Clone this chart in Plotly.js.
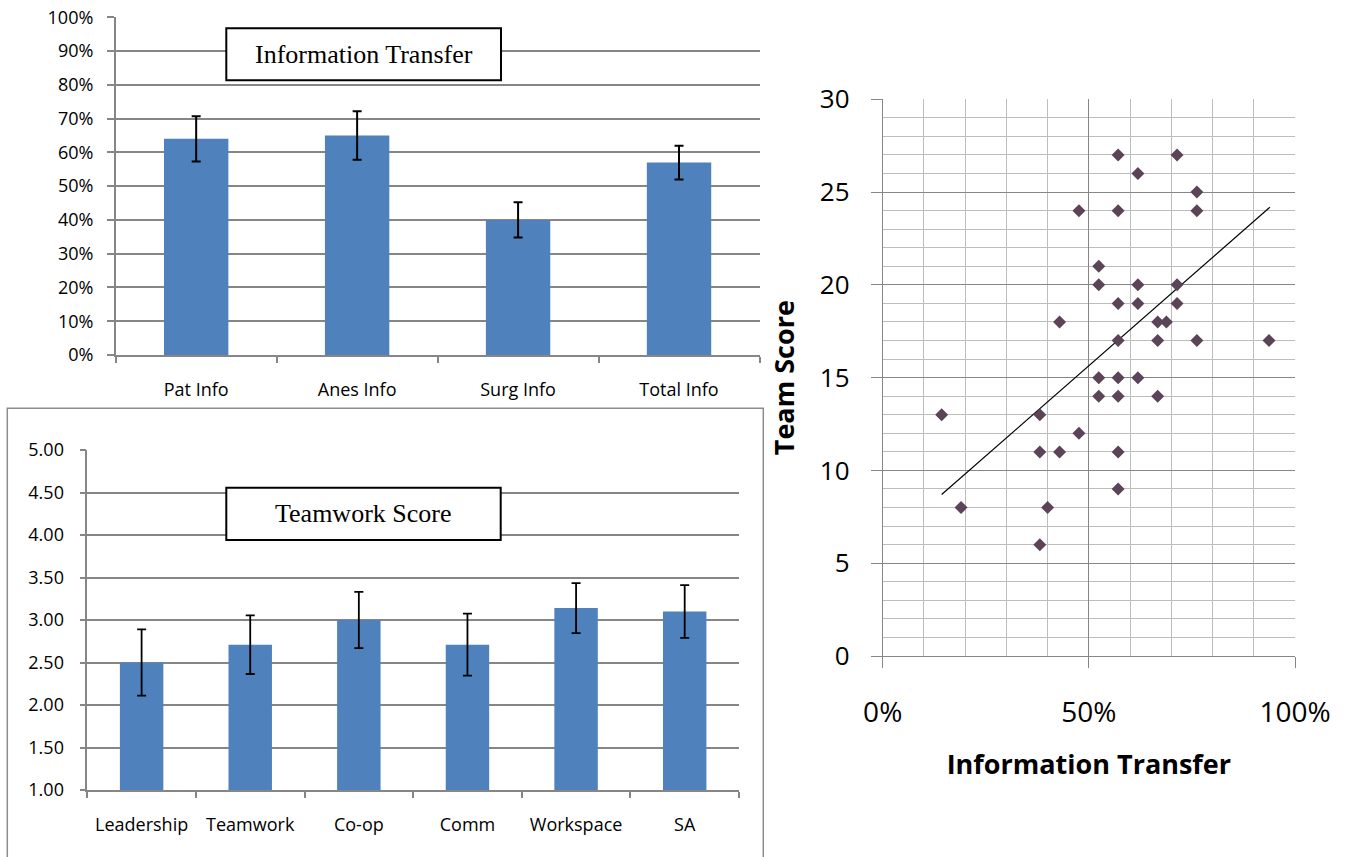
<!DOCTYPE html>
<html>
<head>
<meta charset="utf-8">
<script src="https://cdn.plot.ly/plotly-3.0.1.min.js"></script>
<style>
  html, body { margin: 0; padding: 0; background: #ffffff; }
  #chart { width: 1348px; height: 857px; }
</style>
</head>
<body>
<div id="chart"></div>
<script>
// Information transfer by category (share of items transferred) with error bars
const infoCategories = ["Pat Info", "Anes Info", "Surg Info", "Total Info"];
const infoValues = [0.64, 0.65, 0.40, 0.57];
const infoErrors = [0.067, 0.072, 0.052, 0.050];

// Teamwork score components with error bars
const teamCategories = ["Leadership", "Teamwork", "Co-op", "Comm", "Workspace", "SA"];
const teamValues = [2.50, 2.71, 3.00, 2.71, 3.14, 3.10];
const teamErrors = [0.39, 0.345, 0.33, 0.365, 0.294, 0.31];

// Per-case information transfer vs. team score
const caseInfoTransfer = [0.571, 0.714, 0.619, 0.762, 0.762, 0.476, 0.571, 0.524, 0.524, 0.619,
                          0.714, 0.571, 0.619, 0.714, 0.429, 0.667, 0.688, 0.571, 0.667, 0.762,
                          0.937, 0.524, 0.571, 0.619, 0.524, 0.571, 0.667, 0.143, 0.381, 0.476,
                          0.381, 0.429, 0.571, 0.571, 0.190, 0.400, 0.381];
const caseTeamScore = [27, 27, 26, 25, 24, 24, 24, 21, 20, 20,
                       20, 19, 19, 19, 18, 18, 18, 17, 17, 17,
                       17, 15, 15, 15, 14, 14, 14, 13, 13, 12,
                       11, 11, 11, 9, 8, 8, 6];

// Linear trend line end points
const trendX = [0.143, 0.939];
const trendY = [8.70, 24.18];

const W = 1348, H = 857;
const px = v => v / W;
const py = v => 1 - v / H;

const BAR = "#4f81bd";
const GRID = "#868686";
const MINOR = "#bdbdbd";
const SANS = "Open Sans, Lato, sans-serif";
const SERIF = "Liberation Serif, Times New Roman, serif";

const traces = [
  {
    type: "bar", x: infoCategories, y: infoValues, xaxis: "x", yaxis: "y",
    width: 0.4, marker: { color: BAR },
    error_y: { type: "data", array: infoErrors, visible: true, color: "#000000", thickness: 2, width: 4.5 },
    hoverinfo: "x+y"
  },
  {
    type: "bar", x: teamCategories, y: teamValues, xaxis: "x2", yaxis: "y2",
    width: 0.4, marker: { color: BAR },
    error_y: { type: "data", array: teamErrors, visible: true, color: "#000000", thickness: 1.8, width: 4.5 },
    hoverinfo: "x+y"
  },
  {
    type: "scatter", mode: "lines", x: trendX, y: trendY, xaxis: "x3", yaxis: "y3",
    line: { color: "#000000", width: 1.2 }, hoverinfo: "skip"
  },
  {
    type: "scatter", mode: "markers", x: caseInfoTransfer, y: caseTeamScore, xaxis: "x3", yaxis: "y3",
    marker: { symbol: "diamond", size: 10, color: "#5c4458", line: { width: 0 } }
  }
];

const catAxis = (domain, anchor, fontSize, standoff) => ({
  domain: domain, anchor: anchor, type: "category",
  showgrid: false, zeroline: false,
  showline: true, linecolor: GRID, linewidth: 1.5,
  ticks: "outside", tickson: "boundaries", ticklen: 6, tickcolor: GRID, tickwidth: 1.5,
  tickfont: { family: SANS, size: fontSize, color: "#000000" },
  ticklabelstandoff: standoff, fixedrange: true
});

const x1 = catAxis([px(115.7), px(759.5)], "y", 18, 18); x1.range = [-0.5, 3.5];
const x2 = catAxis([px(87.3), px(739)], "y2", 18, 18); x2.range = [-0.5, 5.5];

const layout = {
  width: W, height: H,
  margin: { l: 0, r: 0, t: 0, b: 0, pad: 0 },
  paper_bgcolor: "#ffffff", plot_bgcolor: "#ffffff",
  showlegend: false, bargap: 0.6,
  xaxis: x1,
  yaxis: {
    domain: [py(355), py(17.3)], anchor: "x", range: [0, 1], dtick: 0.1, tickformat: ".0%",
    showgrid: true, gridcolor: GRID, gridwidth: 1.5, zeroline: false,
    showline: true, linecolor: GRID, linewidth: 1.5,
    ticks: "outside", ticklen: 7, tickcolor: GRID, tickwidth: 1.5,
    tickfont: { family: SANS, size: 18, color: "#000000" }, ticklabelstandoff: 10, fixedrange: true
  },
  xaxis2: x2,
  yaxis2: {
    domain: [py(790), py(450)], anchor: "x2", range: [1, 5], dtick: 0.5, tickformat: ".2f",
    showgrid: true, gridcolor: GRID, gridwidth: 1.5, zeroline: false,
    showline: true, linecolor: GRID, linewidth: 1.5,
    ticks: "outside", ticklen: 6, tickcolor: GRID, tickwidth: 1.5,
    tickfont: { family: SANS, size: 18, color: "#000000" }, ticklabelstandoff: 12, fixedrange: true
  },
  xaxis3: {
    domain: [px(882.7), px(1295)], anchor: "y3", range: [0, 1], dtick: 0.5, tickformat: ".0%",
    showgrid: true, gridcolor: GRID, gridwidth: 1, zeroline: false,
    showline: true, linecolor: GRID, linewidth: 1, mirror: false,
    ticks: "outside", ticklen: 11, tickcolor: GRID, tickwidth: 1,
    minor: { dtick: 0.1, showgrid: true, gridcolor: MINOR, gridwidth: 1 },
    tickfont: { family: SANS, size: 28, color: "#000000" }, ticklabelstandoff: 20,
    title: { text: "Information Transfer", font: { family: SANS, size: 27, color: "#000000", weight: "bold" }, standoff: 26 },
    automargin: false, fixedrange: true
  },
  yaxis3: {
    domain: [py(656), py(99.3)], anchor: "x3", range: [0, 30], dtick: 5,
    showgrid: true, gridcolor: GRID, gridwidth: 1, zeroline: false,
    showline: true, linecolor: GRID, linewidth: 1, mirror: false,
    ticks: "outside", ticklen: 11, tickcolor: GRID, tickwidth: 1,
    minor: { dtick: 1, showgrid: true, gridcolor: MINOR, gridwidth: 1 },
    tickfont: { family: SANS, size: 26, color: "#000000" }, ticklabelstandoff: 16,
    title: { text: "Team Score", font: { family: SANS, size: 27, color: "#000000", weight: "bold" }, standoff: 17 },
    automargin: false, fixedrange: true
  },
  shapes: [
    // frame round the teamwork panel
    { type: "rect", xref: "paper", yref: "paper", x0: px(7.3), x1: px(763.3), y0: py(870), y1: py(408.3),
      line: { color: "#8c8c8c", width: 1.5 }, fillcolor: "rgba(0,0,0,0)", layer: "below" },
    // title boxes
    { type: "rect", xref: "paper", yref: "paper", x0: px(226.3), x1: px(501), y0: py(80.3), y1: py(28.3),
      line: { color: "#000000", width: 2 }, fillcolor: "#ffffff", layer: "above" },
    { type: "rect", xref: "paper", yref: "paper", x0: px(226.3), x1: px(500.7), y0: py(540), y1: py(487.7),
      line: { color: "#000000", width: 2 }, fillcolor: "#ffffff", layer: "above" }
  ],
  annotations: [
    { text: "Information Transfer", xref: "paper", yref: "paper", x: px(363.7), y: py(54.3),
      xanchor: "center", yanchor: "middle", showarrow: false,
      font: { family: SERIF, size: 26, color: "#000000" } },
    { text: "Teamwork Score", xref: "paper", yref: "paper", x: px(363.5), y: py(513.8),
      xanchor: "center", yanchor: "middle", showarrow: false,
      font: { family: SERIF, size: 26, color: "#000000" } }
  ]
};

Plotly.newPlot("chart", traces, layout, { displayModeBar: false, responsive: false });
</script>
</body>
</html>
